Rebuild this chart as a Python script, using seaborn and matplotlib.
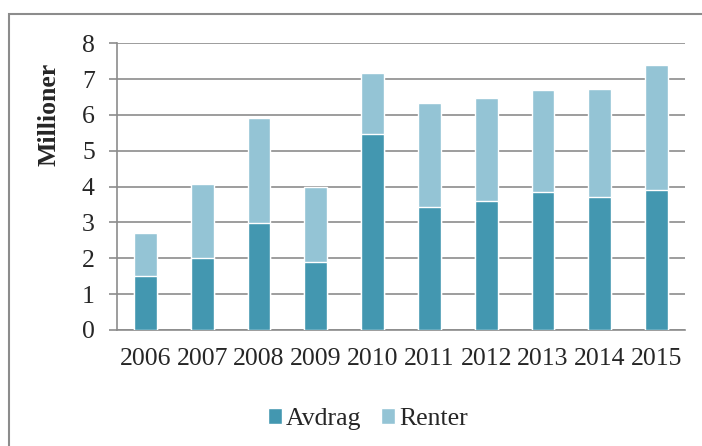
import pandas as pd
import matplotlib.pyplot as plt
import seaborn as sns
from matplotlib.patches import Patch, Rectangle

# data (millions)
years = ["2006", "2007", "2008", "2009", "2010", "2011", "2012", "2013", "2014", "2015"]
avdrag = [1.51, 2.02, 2.99, 1.90, 5.46, 3.42, 3.61, 3.86, 3.70, 3.91]
renter = [1.20, 2.06, 2.93, 2.08, 1.71, 2.91, 2.86, 2.84, 3.03, 3.48]

df = pd.DataFrame({"year": years, "Avdrag": avdrag, "Renter": renter})
df["total"] = df["Avdrag"] + df["Renter"]

dark = "#4397b0"
light = "#94c4d5"
grey = "#8c8c8c"
fs = 18.5

sns.set_style("white")
plt.rcParams["font.family"] = ["Liberation Serif", "DejaVu Serif"]

fig = plt.figure(figsize=(7.02, 4.46), dpi=100)
ax = fig.add_axes([117 / 702, 1 - 330 / 446, 568 / 702, (330 - 43.3) / 446])

# stacked bars: total first, then Avdrag on top of it
sns.barplot(data=df, x="year", y="total", color=light, width=0.4, ax=ax,
            saturation=1, zorder=3)
sns.barplot(data=df, x="year", y="Avdrag", color=dark, width=0.4, ax=ax,
            saturation=1, zorder=4)

ax.set_xlim(-0.5, len(years) - 0.5)
ax.set_ylim(0, 8)
ax.set_yticks(range(0, 9))
ax.yaxis.grid(True, color=grey, linewidth=1.2, zorder=0)
ax.set_axisbelow(True)

for s in ["top", "right"]:
    ax.spines[s].set_visible(False)
for s in ["left", "bottom"]:
    ax.spines[s].set_color(grey)
    ax.spines[s].set_linewidth(1.2)

ax.set_xticks([i - 0.5 for i in range(len(years) + 1)], minor=True)
ax.tick_params(axis="x", which="major", length=0, pad=13, labelsize=fs)
ax.tick_params(axis="x", which="minor", length=6, width=1.2, color=grey, direction="out")
ax.tick_params(axis="y", length=6, width=1.2, color=grey, left=True, pad=10, labelsize=fs)

ax.set_xlabel("")
ax.set_ylabel("Millioner", fontsize=fs, fontweight="bold")
ax.yaxis.set_label_coords(-0.100, 0.753)

handles = [Patch(facecolor=dark, label="Avdrag"), Patch(facecolor=light, label="Renter")]
fig.legend(handles=handles, loc="center", bbox_to_anchor=(368 / 702, 1 - 419 / 446),
           ncol=2, frameon=False, fontsize=fs, handlelength=0.55, handleheight=0.55,
           handletextpad=0.15, columnspacing=0.75)

# chart frame, cut off at right and bottom like the source
fig.patches.append(Rectangle((9 / 702, -0.1), 1.2, 1.1 - 14 / 446, transform=fig.transFigure,
                             fill=False, edgecolor=grey, linewidth=1.5))

fig.savefig("out.png", dpi=100)
